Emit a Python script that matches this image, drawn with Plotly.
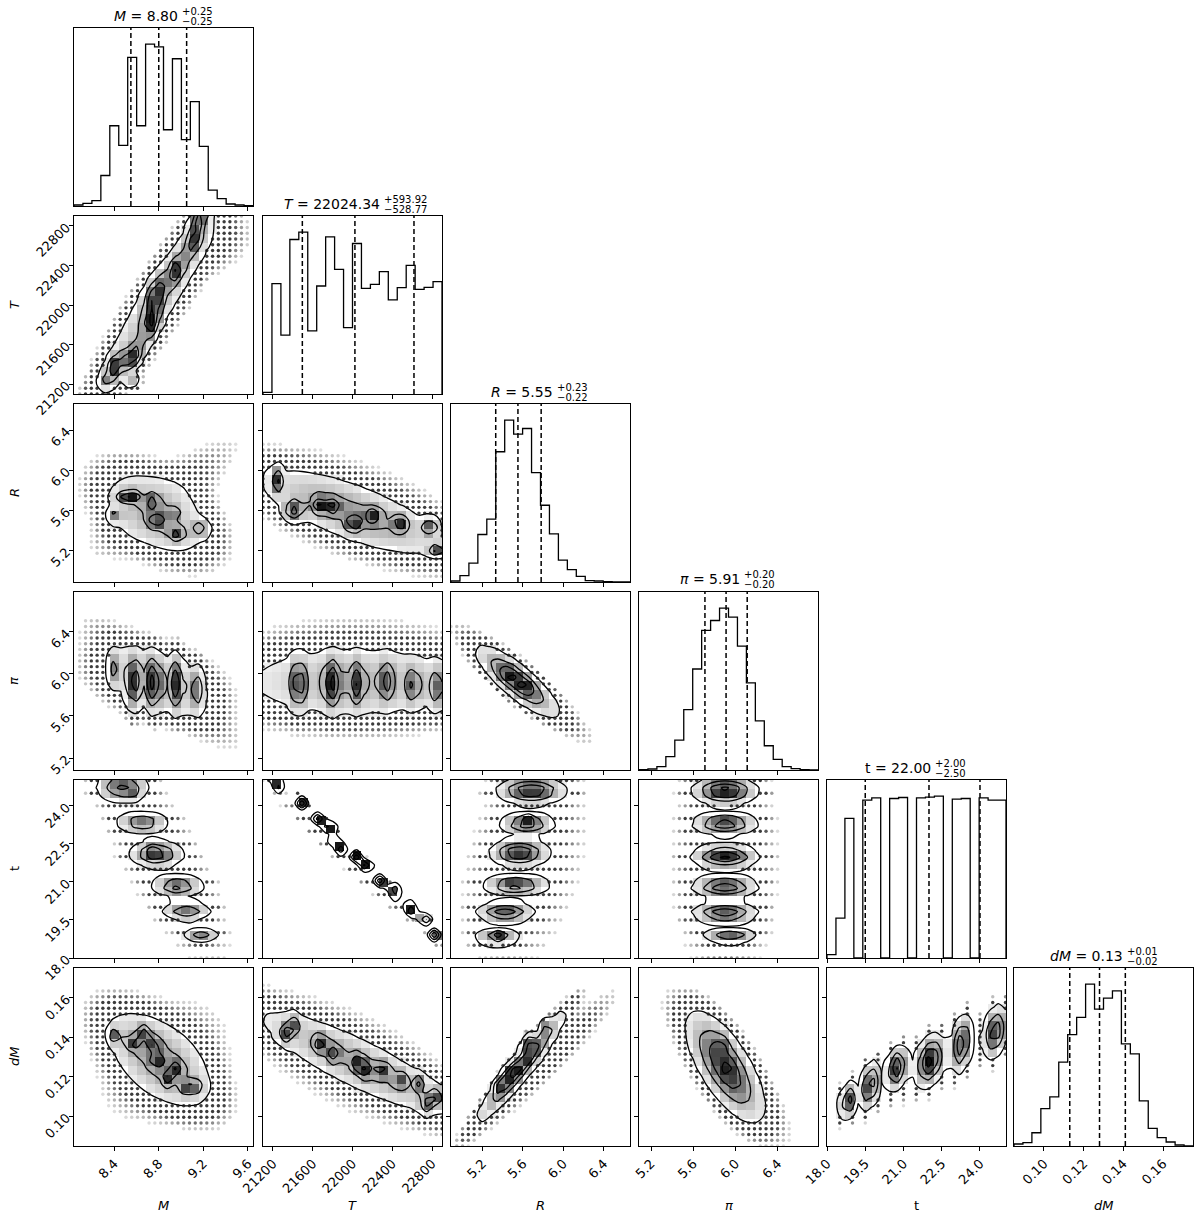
import numpy as np
import plotly.graph_objects as go

# corner plot of six fitted parameters
params = ["M", "T", "R", "pi", "t", "dM"]
axis_labels = ["<i>M</i>", "<i>T</i>", "<i>R</i>", "<i>π</i>", "t", "<i>dM</i>"]

ranges = {
    "M": [8.04, 9.645],
    "T": [21100, 22900],
    "R": [4.887, 6.66],
    "pi": [5.086, 6.78],
    "t": [18.0, 25.02],
    "dM": [0.0849, 0.1751],
}

tick_vals = {
    "M": [8.4, 8.8, 9.2, 9.6],
    "T": [21200, 21600, 22000, 22400, 22800],
    "R": [5.2, 5.6, 6.0, 6.4],
    "pi": [5.2, 5.6, 6.0, 6.4],
    "t": [18.0, 19.5, 21.0, 22.5, 24.0],
    "dM": [0.10, 0.12, 0.14, 0.16],
}
tick_text = {
    "M": ["8.4", "8.8", "9.2", "9.6"],
    "T": ["21200", "21600", "22000", "22400", "22800"],
    "R": ["5.2", "5.6", "6.0", "6.4"],
    "pi": ["5.2", "5.6", "6.0", "6.4"],
    "t": ["18.0", "19.5", "21.0", "22.5", "24.0"],
    "dM": ["0.10", "0.12", "0.14", "0.16"],
}

# 1D histograms, 20 bins over each range
hist_M = [3, 8, 16, 92, 242, 183, 448, 242, 488, 480, 230, 444, 200, 315, 180, 48, 22, 6, 3, 1]
hist_T = [5, 332, 177, 465, 487, 190, 325, 473, 375, 200, 453, 318, 330, 368, 283, 320, 387, 315, 321, 338]
hist_R = [3, 19, 57, 143, 189, 392, 487, 445, 462, 329, 231, 145, 66, 37, 17, 4, 3, 1, 0, 0]
hist_pi = [1, 3, 10, 40, 90, 182, 304, 420, 450, 487, 460, 373, 262, 148, 73, 32, 10, 4, 1, 0]
hist_t = [10, 120, 420, 0, 475, 482, 0, 480, 483, 0, 482, 484, 487, 0, 478, 480, 0, 482, 475, 475]
hist_dM = [6, 10, 40, 113, 148, 253, 336, 388, 488, 413, 446, 468, 308, 278, 136, 53, 25, 12, 3, 0]
hists = {"M": hist_M, "T": hist_T, "R": hist_R, "pi": hist_pi, "t": hist_t, "dM": hist_dM}

# 16/50/84 percentiles
quantiles = {
    "M": [8.55, 8.80, 9.05],
    "T": [21495.57, 22024.34, 22618.26],
    "R": [5.33, 5.55, 5.78],
    "pi": [5.71, 5.91, 6.11],
    "t": [19.5, 22.0, 24.0],
    "dM": [0.113, 0.128, 0.141],
}

titles = {
    "M": ("<i>M</i> = 8.80", "+0.25", "−0.25"),
    "T": ("<i>T</i> = 22024.34", "+593.92", "−528.77"),
    "R": ("<i>R</i> = 5.55", "+0.23", "−0.22"),
    "pi": ("<i>π</i> = 5.91", "+0.20", "−0.20"),
    "t": ("t = 22.00", "+2.00", "−2.50"),
    "dM": ("<i>dM</i> = 0.13", "+0.01", "−0.02"),
}

# discrete age grid of the models
t_lattice = [18.0, 18.5, 19.0, 19.5, 20.0, 20.5, 21.0, 21.5, 22.0, 22.5, 23.0, 23.5, 24.0, 24.5, 25.0]

# 2D densities: (x, y, sigma_x, sigma_y, rho, weight)
blobs_M_T = [
    (8.78, 22050, 0.32, 560, 0.93, 0.35),
    (8.41, 21376, 0.05, 90, 0.5, 1.0),
    (8.57, 21478, 0.05, 90, 0.5, 1.0),
    (8.73, 21815, 0.05, 110, 0.5, 0.9),
    (8.77, 22101, 0.06, 120, 0.5, 0.8),
    (8.96, 22354, 0.05, 100, 0.5, 0.8),
    (9.12, 22657, 0.05, 110, 0.5, 0.8),
    (9.17, 22877, 0.05, 80, 0.5, 0.8),
    (8.32, 21225, 0.04, 40, 0.0, 0.4),
    (8.56, 21225, 0.04, 40, 0.0, 0.4),
    (8.85, 22050, 0.36, 620, 0.9, 0.07),
    (9.35, 22620, 0.2, 200, 0.3, 0.05),
]
blobs_M_R = [
    (8.78, 5.57, 0.28, 0.25, -0.45, 0.5),
    (8.57, 5.74, 0.04, 0.04, 0.0, 1.0),
    (8.48, 5.74, 0.04, 0.04, 0.0, 0.7),
    (8.74, 5.69, 0.04, 0.04, 0.0, 0.8),
    (8.78, 5.50, 0.05, 0.05, 0.0, 0.8),
    (8.96, 5.37, 0.05, 0.05, 0.0, 0.8),
    (9.17, 5.42, 0.04, 0.05, 0.0, 0.7),
    (8.41, 5.55, 0.04, 0.04, 0.0, 0.6),
    (8.93, 5.57, 0.04, 0.04, 0.0, 0.5),
    (8.85, 5.72, 0.40, 0.36, 0.85, 0.08),
]
blobs_T_R = [
    (22000, 5.58, 520, 0.24, -0.75, 0.5),
    (21231, 5.90, 30, 0.08, 0.0, 0.9),
    (21405, 5.60, 60, 0.06, 0.0, 0.8),
    (21673, 5.65, 50, 0.05, 0.0, 0.8),
    (21807, 5.64, 40, 0.05, 0.0, 0.7),
    (22009, 5.47, 50, 0.05, 0.0, 0.8),
    (22210, 5.55, 50, 0.05, 0.0, 0.7),
    (22478, 5.47, 50, 0.05, 0.0, 0.8),
    (22780, 5.44, 50, 0.05, 0.0, 0.8),
    (22847, 5.21, 50, 0.04, 0.0, 0.8),
    (22000, 5.62, 700, 0.36, -0.55, 0.07),
]
blobs_M_pi = [
    (8.78, 5.93, 0.30, 0.19, -0.35, 0.4),
    (8.41, 6.05, 0.03, 0.10, 0.0, 0.6),
    (8.57, 5.91, 0.035, 0.15, 0.0, 1.0),
    (8.75, 5.91, 0.04, 0.15, 0.0, 1.0),
    (8.96, 5.92, 0.035, 0.15, 0.0, 0.9),
    (9.14, 5.86, 0.035, 0.12, 0.0, 0.7),
    (8.82, 5.92, 0.40, 0.36, -0.88, 0.1),
]
blobs_T_pi = [
    (22050, 5.92, 700, 0.19, 0.0, 0.4),
    (21455, 5.91, 45, 0.14, 0.0, 1.0),
    (21791, 5.91, 50, 0.14, 0.0, 1.0),
    (22042, 5.91, 45, 0.13, 0.0, 0.8),
    (22344, 5.93, 45, 0.12, 0.0, 0.7),
    (22612, 5.89, 45, 0.11, 0.0, 0.7),
    (22847, 5.87, 45, 0.12, 0.0, 0.7),
    (22000, 5.98, 800, 0.34, 0.0, 0.08),
]
blobs_R_pi = [
    (5.54, 5.93, 0.20, 0.165, -0.82, 1.0),
    (5.455, 5.99, 0.06, 0.05, 0.0, 0.3),
    (5.62, 5.89, 0.06, 0.05, 0.0, 0.3),
    (5.60, 5.90, 0.42, 0.34, -0.94, 0.08),
]
blobs_M_t = [
    (8.47, 24.75, 0.12, 0.32, 0.0, 0.9),
    (8.65, 23.35, 0.12, 0.21, 0.0, 0.8),
    (8.78, 22.10, 0.12, 0.25, 0.0, 1.0),
    (8.97, 20.85, 0.12, 0.21, 0.0, 0.85),
    (9.05, 19.85, 0.11, 0.19, 0.0, 0.8),
    (9.18, 18.90, 0.08, 0.15, 0.0, 0.7),
    (8.57, 24.50, 0.025, 0.15, 0.0, 0.4),
    (8.74, 22.20, 0.03, 0.15, 0.0, 0.4),
    (8.97, 20.80, 0.02, 0.10, 0.0, 0.3),
    (8.85, 21.80, 0.36, 2.6, -0.75, 0.08),
]
blobs_T_t = [
    (21238, 24.89, 32, 0.13, -0.5, 1.0),
    (21489, 24.17, 32, 0.13, -0.5, 1.0),
    (21673, 23.47, 32, 0.13, -0.5, 1.0),
    (21774, 23.12, 32, 0.13, -0.5, 1.0),
    (21858, 22.43, 32, 0.13, -0.5, 1.0),
    (22042, 22.03, 32, 0.13, -0.5, 1.0),
    (22143, 21.67, 32, 0.13, -0.5, 1.0),
    (22294, 21.01, 32, 0.13, -0.5, 1.0),
    (22428, 20.62, 32, 0.13, -0.5, 1.0),
    (22579, 19.97, 32, 0.13, -0.5, 1.0),
    (22713, 19.57, 32, 0.13, -0.5, 1.0),
    (22830, 18.85, 32, 0.13, -0.5, 1.0),
    (21950, 21.90, 520, 1.9, -0.985, 0.06),
]
blobs_R_t = [
    (5.68, 24.60, 0.17, 0.26, 0.0, 0.9),
    (5.64, 23.30, 0.13, 0.20, 0.0, 0.8),
    (5.56, 22.15, 0.14, 0.25, 0.0, 0.9),
    (5.53, 20.88, 0.16, 0.18, 0.0, 0.8),
    (5.42, 19.80, 0.14, 0.20, 0.0, 0.8),
    (5.34, 18.80, 0.12, 0.16, 0.0, 0.6),
    (5.64, 23.50, 0.03, 0.08, 0.0, 0.4),
    (5.46, 20.88, 0.03, 0.08, 0.0, 0.3),
    (5.37, 18.91, 0.03, 0.06, 0.0, 0.4),
    (5.62, 21.80, 0.36, 2.6, 0.35, 0.07),
]
blobs_pi_t = [
    (5.90, 24.60, 0.15, 0.26, 0.0, 1.0),
    (5.90, 23.31, 0.15, 0.20, 0.0, 0.85),
    (5.90, 22.00, 0.15, 0.22, 0.0, 0.9),
    (5.90, 20.82, 0.15, 0.20, 0.0, 0.85),
    (5.90, 19.77, 0.15, 0.20, 0.0, 0.85),
    (5.95, 18.85, 0.13, 0.14, 0.0, 0.65),
    (5.90, 21.80, 0.28, 2.8, 0.0, 0.08),
]
blobs_M_dM = [
    (8.80, 0.129, 0.27, 0.014, -0.6, 0.5),
    (8.408, 0.1411, 0.035, 0.0025, 0.0, 0.6),
    (8.572, 0.1369, 0.035, 0.0025, 0.0, 0.6),
    (8.661, 0.1420, 0.035, 0.0025, 0.0, 0.6),
    (8.751, 0.1369, 0.035, 0.0025, 0.0, 0.6),
    (8.781, 0.1285, 0.035, 0.0025, 0.0, 0.6),
    (8.885, 0.1192, 0.035, 0.0025, 0.0, 0.6),
    (8.961, 0.1243, 0.035, 0.0025, 0.0, 0.6),
    (9.050, 0.1149, 0.035, 0.0025, 0.0, 0.6),
    (9.140, 0.1149, 0.035, 0.0025, 0.0, 0.5),
    (8.85, 0.128, 0.34, 0.018, 0.35, 0.07),
]
blobs_T_dM = [
    (22050, 0.127, 600, 0.016, -0.88, 0.5),
    (21321, 0.1420, 40, 0.003, 0.0, 0.8),
    (21405, 0.1462, 40, 0.003, 0.0, 0.7),
    (21673, 0.1369, 40, 0.003, 0.0, 0.8),
    (21807, 0.1319, 40, 0.003, 0.0, 0.7),
    (22059, 0.1268, 40, 0.003, 0.0, 0.8),
    (22143, 0.1234, 40, 0.003, 0.0, 0.7),
    (22310, 0.1234, 40, 0.003, 0.0, 0.7),
    (22478, 0.1183, 40, 0.003, 0.0, 0.7),
    (22662, 0.1167, 40, 0.003, 0.0, 0.7),
    (22746, 0.1065, 40, 0.003, 0.0, 0.8),
    (22847, 0.1099, 40, 0.003, 0.0, 0.8),
    (22000, 0.128, 650, 0.021, -0.6, 0.07),
]
blobs_R_dM = [
    (5.59, 0.1259, 0.22, 0.014, 0.96, 0.8),
    (5.37, 0.1166, 0.04, 0.003, 0.5, 0.4),
    (5.47, 0.1234, 0.04, 0.003, 0.5, 0.4),
    (5.64, 0.1369, 0.04, 0.003, 0.5, 0.5),
    (5.82, 0.1462, 0.03, 0.002, 0.5, 0.3),
    (5.78, 0.126, 0.42, 0.021, 0.95, 0.07),
]
blobs_pi_dM = [
    (5.90, 0.125, 0.18, 0.014, -0.68, 1.0),
    (5.87, 0.1369, 0.04, 0.003, 0.0, 0.25),
    (5.93, 0.1234, 0.04, 0.003, 0.0, 0.2),
    (5.92, 0.124, 0.34, 0.021, -0.86, 0.08),
]
blobs_t_dM = [
    (18.84, 0.1078, 0.19, 0.005, 0.3, 0.8),
    (19.69, 0.1158, 0.19, 0.0063, 0.3, 0.9),
    (20.73, 0.1247, 0.22, 0.0057, 0.3, 0.9),
    (22.04, 0.1281, 0.30, 0.0066, 0.3, 1.0),
    (23.28, 0.1369, 0.21, 0.0076, 0.3, 0.85),
    (24.60, 0.1428, 0.25, 0.0070, 0.3, 0.85),
    (22.00, 0.127, 2.2, 0.016, 0.8, 0.07),
]

blobs = {
    ("M", "T"): blobs_M_T,
    ("M", "R"): blobs_M_R, ("T", "R"): blobs_T_R,
    ("M", "pi"): blobs_M_pi, ("T", "pi"): blobs_T_pi, ("R", "pi"): blobs_R_pi,
    ("M", "t"): blobs_M_t, ("T", "t"): blobs_T_t, ("R", "t"): blobs_R_t, ("pi", "t"): blobs_pi_t,
    ("M", "dM"): blobs_M_dM, ("T", "dM"): blobs_T_dM, ("R", "dM"): blobs_R_dM,
    ("pi", "dM"): blobs_pi_dM, ("t", "dM"): blobs_t_dM,
}

# contour levels relative to the peak
LEVEL_LOW = 0.12
LEVEL_STEP = 0.25
DOT_MIN = 0.015

W, H = 1200, 1219
col_left = [74, 263, 451, 639, 827, 1014]
row_top = [28, 216, 404, 592, 780, 968]
PW, PH = 179, 178
FONT = "DejaVu Sans"


def density(blob_list, xs, ys):
    X, Y = np.meshgrid(xs, ys)
    z = np.zeros_like(X, dtype=float)
    for x0, y0, sx, sy, rho, amp in blob_list:
        u = (X - x0) / sx
        v = (Y - y0) / sy
        q = (u * u - 2 * rho * u * v + v * v) / (1 - rho * rho)
        z += amp * np.exp(-0.5 * q)
    return z


def xdom(j):
    return [col_left[j] / W, (col_left[j] + PW) / W]


def ydom(i):
    return [1 - (row_top[i] + PH) / H, 1 - row_top[i] / H]


gray_scale = [[0.0, "#ffffff"], [0.12, "#eeeeee"], [0.4, "#a8a8a8"], [0.7, "#505050"], [1.0, "#111111"]]

fig = go.Figure()
layout = {}
shapes = []
annotations = []

k = 0
for i in range(6):
    for j in range(i + 1):
        k += 1
        xa = "x" if k == 1 else f"x{k}"
        ya = "y" if k == 1 else f"y{k}"
        pxn, pyn = params[j], params[i]
        xlo, xhi = ranges[pxn]

        xaxis = dict(domain=xdom(j), anchor=ya, range=[xlo, xhi], automargin=False,
                     tickvals=tick_vals[pxn], ticktext=tick_text[pxn],
                     showticklabels=(i == 5), ticks="outside", ticklen=4, tickwidth=1,
                     tickcolor="black", tickangle=-45, tickfont=dict(size=13, color="black", family=FONT),
                     showline=True, mirror=True, linecolor="black", linewidth=1,
                     showgrid=False, zeroline=False)

        if i == j:
            counts = hists[pxn]
            edges = np.linspace(xlo, xhi, len(counts) + 1)
            sx_ = [edges[0]] + list(edges[:-1]) + [edges[-1], edges[-1]]
            sy_ = [0] + list(counts) + [counts[-1], 0]
            fig.add_trace(go.Scatter(x=sx_, y=sy_, mode="lines", line=dict(color="black", width=1.3, shape="hv"),
                                     xaxis=xa, yaxis=ya, hoverinfo="skip", showlegend=False))
            ymax = 1.1 * max(counts)
            for q in quantiles[pxn]:
                shapes.append(dict(type="line", xref=xa, yref=f"{ya} domain", x0=q, x1=q, y0=0, y1=1,
                                   line=dict(color="black", width=1.5, dash="5px,3px")))
            yaxis = dict(domain=ydom(i), anchor=xa, range=[0, ymax], automargin=False,
                         showticklabels=False, ticks="",
                         showline=True, mirror=True, linecolor="black", linewidth=1,
                         showgrid=False, zeroline=False)
            # title above the histogram
            main, up, low = titles[pxn]
            title_right = {"M": 180, "T": 381.7, "R": 555, "pi": 741.7, "t": 933.3, "dM": 1125}[pxn]
            top_paper = 1 - row_top[i] / H
            annotations.append(dict(text=main, x=title_right / W, y=top_paper, xref="paper", yref="paper",
                                    xanchor="right", yanchor="middle", yshift=12.5, showarrow=False,
                                    font=dict(size=14, color="black", family=FONT)))
            annotations.append(dict(text=up, x=title_right / W, y=top_paper, xref="paper", yref="paper",
                                    xanchor="left", yanchor="middle", yshift=17, showarrow=False,
                                    font=dict(size=10, color="black", family=FONT)))
            annotations.append(dict(text=low, x=title_right / W, y=top_paper, xref="paper", yref="paper",
                                    xanchor="left", yanchor="middle", yshift=7, showarrow=False,
                                    font=dict(size=10, color="black", family=FONT)))
        else:
            ylo, yhi = ranges[pyn]
            bl = blobs[(pxn, pyn)]
            fine = density(bl, np.linspace(xlo, xhi, 90), np.linspace(ylo, yhi, 90))
            norm = fine.max()

            # scattered samples outside the lowest contour
            dx = t_lattice if pxn == "t" else np.linspace(xlo, xhi, 32)
            dy = t_lattice if pyn == "t" else np.linspace(ylo, yhi, 32)
            zd = density(bl, dx, dy) / norm
            DX, DY = np.meshgrid(dx, dy)
            m = (zd > DOT_MIN) & (zd < LEVEL_LOW)
            op = np.clip((zd[m] - 0.01) / 0.035, 0.12, 0.85)
            fig.add_trace(go.Scatter(x=DX[m], y=DY[m], mode="markers",
                                     marker=dict(size=3.4, color="#1a1a1a", opacity=op, line=dict(width=0)),
                                     xaxis=xa, yaxis=ya, hoverinfo="skip", showlegend=False))

            # binned density inside the contours
            ex = np.linspace(xlo, xhi, 21)
            ey = np.linspace(ylo, yhi, 21)
            cx = 0.5 * (ex[1:] + ex[:-1])
            cy = 0.5 * (ey[1:] + ey[:-1])
            zh = density(bl, cx, cy) / norm
            zh = np.where(zh < LEVEL_LOW, np.nan, zh)
            fig.add_trace(go.Heatmap(x=cx, y=cy, z=zh, colorscale=gray_scale, zmin=0, zmax=1,
                                     showscale=False, zsmooth=False, hoverinfo="skip",
                                     xaxis=xa, yaxis=ya))

            gx = np.linspace(xlo, xhi, 24)
            gy = np.linspace(ylo, yhi, 24)
            zc = density(bl, gx, gy) / norm
            fig.add_trace(go.Contour(x=gx, y=gy, z=zc, showscale=False, hoverinfo="skip",
                                     colorscale=[[0, "black"], [1, "black"]],
                                     contours=dict(coloring="lines", start=LEVEL_LOW, end=0.9, size=LEVEL_STEP),
                                     line=dict(width=1.3), xaxis=xa, yaxis=ya))

            yaxis = dict(domain=ydom(i), anchor=xa, range=[ylo, yhi], automargin=False,
                         tickvals=tick_vals[pyn], ticktext=tick_text[pyn],
                         showticklabels=(j == 0), ticks="outside", ticklen=4, tickwidth=1,
                         tickcolor="black", tickangle=-45, tickfont=dict(size=13, color="black", family=FONT),
                         showline=True, mirror=True, linecolor="black", linewidth=1,
                         showgrid=False, zeroline=False)

        layout["xaxis" if k == 1 else f"xaxis{k}"] = xaxis
        layout["yaxis" if k == 1 else f"yaxis{k}"] = yaxis

# axis labels
for j in range(6):
    annotations.append(dict(text=axis_labels[j], x=(col_left[j] + PW / 2) / W, y=1 - 1205 / H,
                            xref="paper", yref="paper", showarrow=False, xanchor="center", yanchor="middle",
                            font=dict(size=13, color="black", family=FONT)))
for i in range(1, 6):
    annotations.append(dict(text=axis_labels[i], x=14 / W, y=1 - (row_top[i] + PH / 2) / H,
                            xref="paper", yref="paper", showarrow=False, textangle=-90,
                            xanchor="center", yanchor="middle",
                            font=dict(size=13, color="black", family=FONT)))

fig.update_layout(**layout)
fig.update_layout(
    width=W, height=H,
    margin=dict(l=0, r=0, t=0, b=0, autoexpand=False),
    plot_bgcolor="white",
    paper_bgcolor="white",
    showlegend=False,
    shapes=shapes,
    annotations=annotations,
    font=dict(family=FONT, color="black"),
)

# drop the default page margin so the figure sits at the window's corner
fig.write_html("out.html", config={"displayModeBar": False},
               post_script="document.body.style.margin = '0px';")
